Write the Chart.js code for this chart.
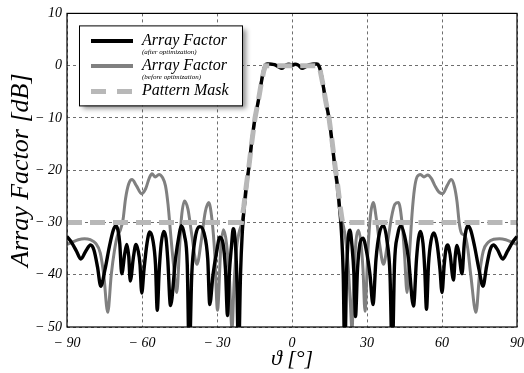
<!DOCTYPE html>
<html>
<head>
<meta charset="utf-8">
<script src="https://cdn.jsdelivr.net/npm/chart.js@4/dist/chart.umd.min.js"></script>
<style>
  html, body { margin: 0; padding: 0; background: #fff; overflow: hidden; }
  #wrap { width: 524px; height: 373px; overflow: hidden; }
</style>
</head>
<body>
<div id="wrap"><canvas id="afChart" width="532" height="373"></canvas></div>
<script>
// axis ticks
const thetaTicks = [-90, -60, -30, 0, 30, 60, 90];
const dbTicks = [10, 0, -10, -20, -30, -40, -50];

// Array factor after optimization (black)
const afterTheta = [
  -90, -88.2, -86.2, -84.5, -82.4, -80.6, -79.2, -77.8, -76.5, -74.8, -73, -71.5, -70.5, -69.6, -68.9, -68.1,
  -66.9, -66.1, -65.3, -64.7, -63.4, -62.4, -61.5, -60.8, -60.1, -59.2, -58, -56.9, -55.6, -54.6, -53.9, -53.1,
  -52.3, -51.3, -50.4, -49.7, -48.6, -46.6, -45.2, -44.3, -43, -41.9, -41.1, -40.1, -38.9, -36.8, -35.2, -33.7,
  -32.9, -31.6, -30.1, -28.9, -27.6, -26.6, -25.8, -25.1, -24.2, -23.5, -22.8, -22.1, -21.4, -20.6, -19.9, -19.1,
  -18.3, -17.4, -16.1, -14.8, -13.5, -12.3, -11.5, -10.8, -10, -8.5, -7, -5.5, -4, -2.5, -1.2,
  0,
  1.2, 2.5, 4, 5.5, 7, 8.5, 10, 10.8, 11.5, 12.3, 13.5, 14.8, 16, 17.3, 18.2, 19, 19.8, 20.5, 21.1, 21.8, 22.5,
  23.2, 24, 24.8, 25.4, 26.2, 27.2, 28.4, 29.8, 31.2, 32.4, 33.6, 35, 36.6, 38, 39.2, 40.1, 41, 42.2, 43.5, 45,
  46.6, 48.6, 49.8, 50.6, 51.4, 52.4, 53.1, 53.8, 54.6, 55.6, 56.8, 58, 59.2, 60, 60.9, 61.6, 62.3, 63.2, 64.6,
  65.3, 66, 66.8, 68, 68.9, 69.6, 70.4, 71.5, 73, 74.8, 76.4, 77.8, 79.2, 80.6, 82.2, 84.3, 86.2, 88.2, 90
];
const afterDb = [
  -32.7, -33.8, -35.5, -37, -35.4, -34.3, -35.3, -38.5, -42.2, -39, -34.5, -31.5, -30.6, -31.5, -34, -39.8,
  -36, -34.2, -36.5, -41.2, -36.5, -34.2, -35.5, -38, -43.5, -39, -34, -31.8, -33.5, -38, -46.8, -39,
  -34, -31.7, -33, -37, -45.9, -37, -32.5, -30.6, -32.5, -38, -56, -40, -33.5, -30.8, -32, -37,
  -45.7, -40, -35.5, -32.8, -34, -39, -47.8, -40, -34.5, -31.2, -33, -40, -56, -40, -32, -27,
  -23, -20, -14.5, -10, -6.8, -3.3, -1.2, -0.1, 0.3, 0.3, 0.2, -0.2, -0.5, 0.1, 0.3,
  0.1,
  0.3, 0.1, -0.5, -0.2, 0.2, 0.3, 0.3, -0.1, -1.2, -3.3, -6.8, -10, -14.5, -20, -23, -27, -32, -40, -56, -40, -33,
  -31.5, -34.5, -40, -48, -39, -34, -33, -35.5, -40, -45.7, -37, -32, -30.6, -33.5, -40, -56, -38, -32.5, -30.6, -32.5,
  -37, -46, -37, -33, -31.7, -34, -39, -46.6, -38, -33.5, -32, -34, -39, -43.4, -38, -35, -34.3, -36, -41,
  -36.5, -34.4, -36, -39.8, -34, -31.5, -30.6, -31.5, -34.5, -39, -42.2, -38.5, -35.3, -34.3, -35.2, -37, -35.5, -33.8, -32.7
];

// Array factor before optimization (grey)
const beforeTheta = [
  -90, -88, -85.5, -83, -80.7, -78.5, -76.7, -75.3, -73.7, -72.3, -71, -69.8, -68.7, -67.6, -66.6, -65.3,
  -64, -62.2, -60.2, -58.5, -57.1, -56, -54.7, -53.2, -51.8, -50.6, -49.6, -48.4, -47.2, -46.1, -45, -44.2,
  -43, -41.6, -40.2, -38, -36.3, -34.7, -33.3, -32, -30.9, -29.8, -28.5, -27.4, -26.2, -25, -24, -23.2,
  -22.2, -21.2, -20.3, -19.5, -18.6, -17.6, -16.2, -15, -13.7, -12.6, -11.6, -10.9, -9.8, -8, -6, -4.5, -3, -1.5,
  0,
  1.5, 3, 4.5, 6, 8, 9.8, 10.8, 11.5, 12.5, 13.6, 14.8, 16, 17.2, 18.2, 19, 19.8, 20.6, 21.4, 22.4, 23.3,
  24, 24.8, 25.6, 26.6, 27.6, 28.4, 29.2, 30.3, 31.3, 32.5, 33.8, 35, 36.6, 38.2, 39.8, 41.2, 42.6, 44, 45,
  46, 47, 48, 49, 50, 51.4, 52.8, 54.3, 55.8, 57.2, 58.8, 60.3, 62, 63.7, 65, 66, 67, 68, 69.2, 70.3,
  71.5, 73.6, 75, 76.5, 78.5, 80.7, 83, 85.5, 88, 90
];
const beforeDb = [
  -34.2, -33.8, -33.3, -33.1, -33.3, -34, -35.8, -40, -47.2, -40, -35.3, -32.5, -31.5, -29.5, -25.5, -22.6,
  -21.8, -23, -24.5, -23.5, -21.5, -20.7, -21.3, -20.8, -21.4, -23, -26.5, -33, -39, -43.4, -35, -29,
  -25.9, -27.5, -32, -38, -33.5, -28, -26.2, -29.5, -36, -46.8, -35, -31.4, -34, -41, -50.5, -42,
  -35, -32, -30.5, -28.5, -25.5, -21, -15.3, -11, -7.4, -4, -1.3, 0.1, 0.4, 0.3, 0, -0.3, 0, 0.2,
  0,
  0.2, 0, -0.3, 0, 0.3, 0.4, 0.1, -1.2, -3.8, -7.2, -10.4, -14.8, -19.8, -24, -27.5, -29.5, -30.8, -33, -38, -45,
  -50.5, -40, -33.5, -31.5, -34, -39, -47, -36, -29, -26.2, -29.5, -34, -38, -34, -29, -26.5, -26.2, -30, -36,
  -43.4, -36, -28.5, -23.5, -21.3, -20.8, -21.3, -20.9, -21.6, -23, -24.2, -24.5, -23, -21.8, -23.2, -26, -30.5, -32.2, -32.5, -35,
  -40, -47.2, -40, -35.5, -33.8, -33.2, -33.1, -33.3, -33.8, -34.2
];

// Pattern mask (light grey dashed)
const maskTheta = [-90, -20.2, -19.3, -18.3, -17.3, -16.1, -14.8, -13.5, -12.3, -11.3, -10.6,
  10.6, 11.3, 12.3, 13.5, 14.8, 16.1, 17.3, 18.3, 19.3, 20.2, 90];
const maskDb = [-30, -30, -27, -23, -19.5, -14.7, -10, -6.8, -3.4, -1, 0,
  0, -1, -3.4, -6.8, -10, -14.7, -19.5, -23, -27, -30, -30];

const seriesLabels = ['Array Factor', 'Array Factor', 'Pattern Mask'];
const seriesNotes = ['(after optimization)', '(before optimization)', ''];

function toPoints(xs, ys) {
  return xs.map((x, i) => ({ x: x, y: ys[i] }));
}

const serif = "'Liberation Serif', 'DejaVu Serif', serif";

function tickText(v) {
  return v < 0 ? '\u2212 ' + Math.abs(v) : String(v);
}

// frame around the plot + legend with sub notes
const frameAndLegend = {
  id: 'frameAndLegend',
  afterDatasetsDraw(chart) {
    const ctx = chart.ctx, a = chart.chartArea;
    ctx.save();
    ctx.strokeStyle = '#000';
    ctx.lineWidth = 1.2;
    ctx.strokeRect(a.left, a.top, a.right - a.left, a.bottom - a.top);
    ctx.restore();
  },
  afterDraw(chart) {
    const ctx = chart.ctx, a = chart.chartArea;
    const bx = a.left + 12, by = a.top + 12, bw = 163, bh = 80;
    ctx.save();
    ctx.shadowColor = 'rgba(0,0,0,0.45)';
    ctx.shadowBlur = 5;
    ctx.shadowOffsetX = 4;
    ctx.shadowOffsetY = 4;
    ctx.fillStyle = '#fff';
    ctx.fillRect(bx, by, bw, bh);
    ctx.restore();

    ctx.save();
    ctx.strokeStyle = '#000';
    ctx.lineWidth = 1;
    ctx.strokeRect(bx + 0.5, by + 0.5, bw, bh);
    const rowY = [15.5, 40.5, 66];
    chart.data.datasets.forEach((ds, i) => {
      const y = by + rowY[i];
      ctx.beginPath();
      ctx.strokeStyle = ds.borderColor;
      ctx.lineWidth = i === 2 ? 5 : 4;
      ctx.setLineDash(i === 2 ? [15, 11] : []);
      ctx.moveTo(bx + 12, y);
      ctx.lineTo(bx + 54, y);
      ctx.stroke();
      ctx.setLineDash([]);
      ctx.fillStyle = '#000';
      ctx.textBaseline = 'middle';
      ctx.textAlign = 'left';
      ctx.font = 'italic 16px ' + serif;
      ctx.fillText(ds.label, bx + 63, y - 0.5);
      if (seriesNotes[i]) {
        ctx.font = 'italic 7px ' + serif;
        ctx.fillText(seriesNotes[i], bx + 63, y + 11);
      }
    });
    ctx.restore();
  }
};

const ctx = document.getElementById('afChart').getContext('2d');
new Chart(ctx, {
  type: 'scatter',
  data: {
    datasets: [
      { label: seriesLabels[0], data: toPoints(afterTheta, afterDb), showLine: true, borderColor: '#000000',
        borderWidth: 3.4, pointRadius: 0, cubicInterpolationMode: 'monotone', order: 1 },
      { label: seriesLabels[1], data: toPoints(beforeTheta, beforeDb), showLine: true, borderColor: '#808080',
        borderWidth: 3, pointRadius: 0, cubicInterpolationMode: 'monotone', order: 2 },
      { label: seriesLabels[2], data: toPoints(maskTheta, maskDb), showLine: true, borderColor: '#b8b8b8',
        borderWidth: 5, borderDash: [15, 8], pointRadius: 0, tension: 0, order: 0 }
    ]
  },
  options: {
    responsive: false,
    animation: false,
    layout: { padding: { top: 12, right: 14.5, left: 0, bottom: 0 } },
    plugins: { legend: { display: false }, tooltip: { enabled: false } },
    scales: {
      x: {
        type: 'linear', min: -90, max: 90,
        afterBuildTicks: s => { s.ticks = thetaTicks.map(v => ({ value: v })); },
        afterFit: s => { s.height = 46; },
        grid: { color: '#6e6e6e', lineWidth: 1, drawTicks: false },
        border: { display: false, dash: [3, 3] },
        ticks: { callback: tickText, color: '#000', padding: 8, maxRotation: 0,
          font: { family: serif, style: 'italic', size: 14 } },
        title: { display: true, text: '\u03d1 [\u00b0]', color: '#000', padding: { bottom: 1, top: 0 },
          font: { family: serif, style: 'italic', size: 22 } }
      },
      y: {
        min: -50, max: 10,
        afterBuildTicks: s => { s.ticks = dbTicks.map(v => ({ value: v })); },
        afterFit: s => { s.width = 67; },
        grid: { color: '#6e6e6e', lineWidth: 1, drawTicks: false },
        border: { display: false, dash: [3, 3] },
        ticks: { callback: tickText, color: '#000', padding: 5,
          font: { family: serif, style: 'italic', size: 14 } },
        title: { display: true, text: 'Array Factor [dB]', color: '#000', padding: { top: 6, bottom: 0 },
          font: { family: serif, style: 'italic', size: 26 } }
      }
    }
  },
  plugins: [frameAndLegend]
});
</script>
</body>
</html>
